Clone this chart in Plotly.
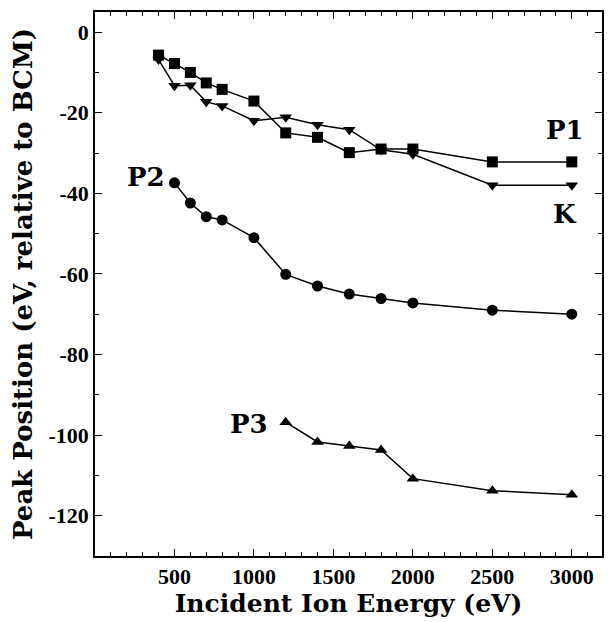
import plotly.graph_objects as go

energy = [400, 500, 600, 700, 800, 1000, 1200, 1400, 1600, 1800, 2000, 2500, 3000]
p1 = [-5.7, -7.8, -10.0, -12.6, -14.2, -17.1, -25.0, -26.1, -29.9, -29.0, -29.0, -32.2, -32.2]
k_peak = [-6.8, -13.3, -13.2, -17.3, -18.3, -22.0, -21.1, -23.0, -24.2, -29.2, -30.3, -38.0, -38.0]

energy_p2 = [500, 600, 700, 800, 1000, 1200, 1400, 1600, 1800, 2000, 2500, 3000]
p2 = [-37.4, -42.4, -45.8, -46.6, -51.0, -60.1, -63.0, -65.0, -66.1, -67.2, -69.0, -70.0]

energy_p3 = [1200, 1400, 1600, 1800, 2000, 2500, 3000]
p3 = [-96.8, -101.7, -102.7, -103.7, -110.8, -113.8, -114.8]

x_ticks = [500, 1000, 1500, 2000, 2500, 3000]
x_tick_labels = ["500", "1000", "1500", "2000", "2500", "3000"]
y_ticks = [0, -20, -40, -60, -80, -100, -120]
y_tick_labels = ["0", "-20", "-40", "-60", "-80", "-100", "-120"]

fig = go.Figure()
line = dict(color="black", width=1.5)

fig.add_trace(go.Scatter(x=energy, y=p1, mode="lines+markers", line=line,
                         marker=dict(symbol="square", size=11, color="black"), name="P1"))
fig.add_trace(go.Scatter(x=energy, y=k_peak, mode="lines+markers", line=line,
                         marker=dict(symbol="triangle-down", size=11, color="black"), name="K"))
fig.add_trace(go.Scatter(x=energy_p2, y=p2, mode="lines+markers", line=line,
                         marker=dict(symbol="circle", size=11, color="black"), name="P2"))
fig.add_trace(go.Scatter(x=energy_p3, y=p3, mode="lines+markers", line=line,
                         marker=dict(symbol="triangle-up", size=11, color="black"), name="P3"))

lab_font = dict(family="DejaVu Serif", size=26, color="black", weight="bold")
tick_font = dict(family="Liberation Serif", size=22, color="black", weight="bold")
xtitle_font = dict(family="DejaVu Serif", size=25, color="black", weight="bold")
ytitle_font = dict(family="DejaVu Serif", size=26, color="black", weight="bold")

fig.add_annotation(x=2955, y=-24.3, text="P1", showarrow=False, font=lab_font)
fig.add_annotation(x=2957, y=-45.1, text="K", showarrow=False, font=lab_font)
fig.add_annotation(x=450, y=-35.9, text="P2", showarrow=False, font=lab_font, xanchor="right")
fig.add_annotation(x=1100, y=-97.3, text="P3", showarrow=False, font=lab_font, xanchor="right")

fig.update_xaxes(range=[0, 3190], tickvals=x_ticks, ticktext=x_tick_labels, ticks="inside", ticklen=7,
                 tickwidth=1.3, tickcolor="black", showline=True, linecolor="black", linewidth=1.5,
                 mirror="allticks", showgrid=False, zeroline=False, tickfont=tick_font,
                 minor=dict(dtick=100, tick0=0, ticks="inside", ticklen=4, tickcolor="black", tickwidth=1),
                 title=dict(text="Incident Ion Energy (eV)", font=xtitle_font, standoff=6))
fig.update_yaxes(range=[-130, 5], tickvals=y_ticks, ticktext=y_tick_labels, ticks="inside", ticklen=7,
                 tickwidth=1.3, tickcolor="black", showline=True, linecolor="black", linewidth=1.5,
                 mirror="allticks", showgrid=False, zeroline=False, tickfont=tick_font,
                 minor=dict(dtick=10, tick0=0, ticks="inside", ticklen=4, tickcolor="black", tickwidth=1),
                 title=dict(text="Peak Position (eV, relative to BCM)", font=ytitle_font, standoff=8))

fig.update_layout(width=608, height=622, margin=dict(l=95, r=4, t=12, b=66),
                  paper_bgcolor="white", plot_bgcolor="white", showlegend=False)

fig.write_html("out.html")
